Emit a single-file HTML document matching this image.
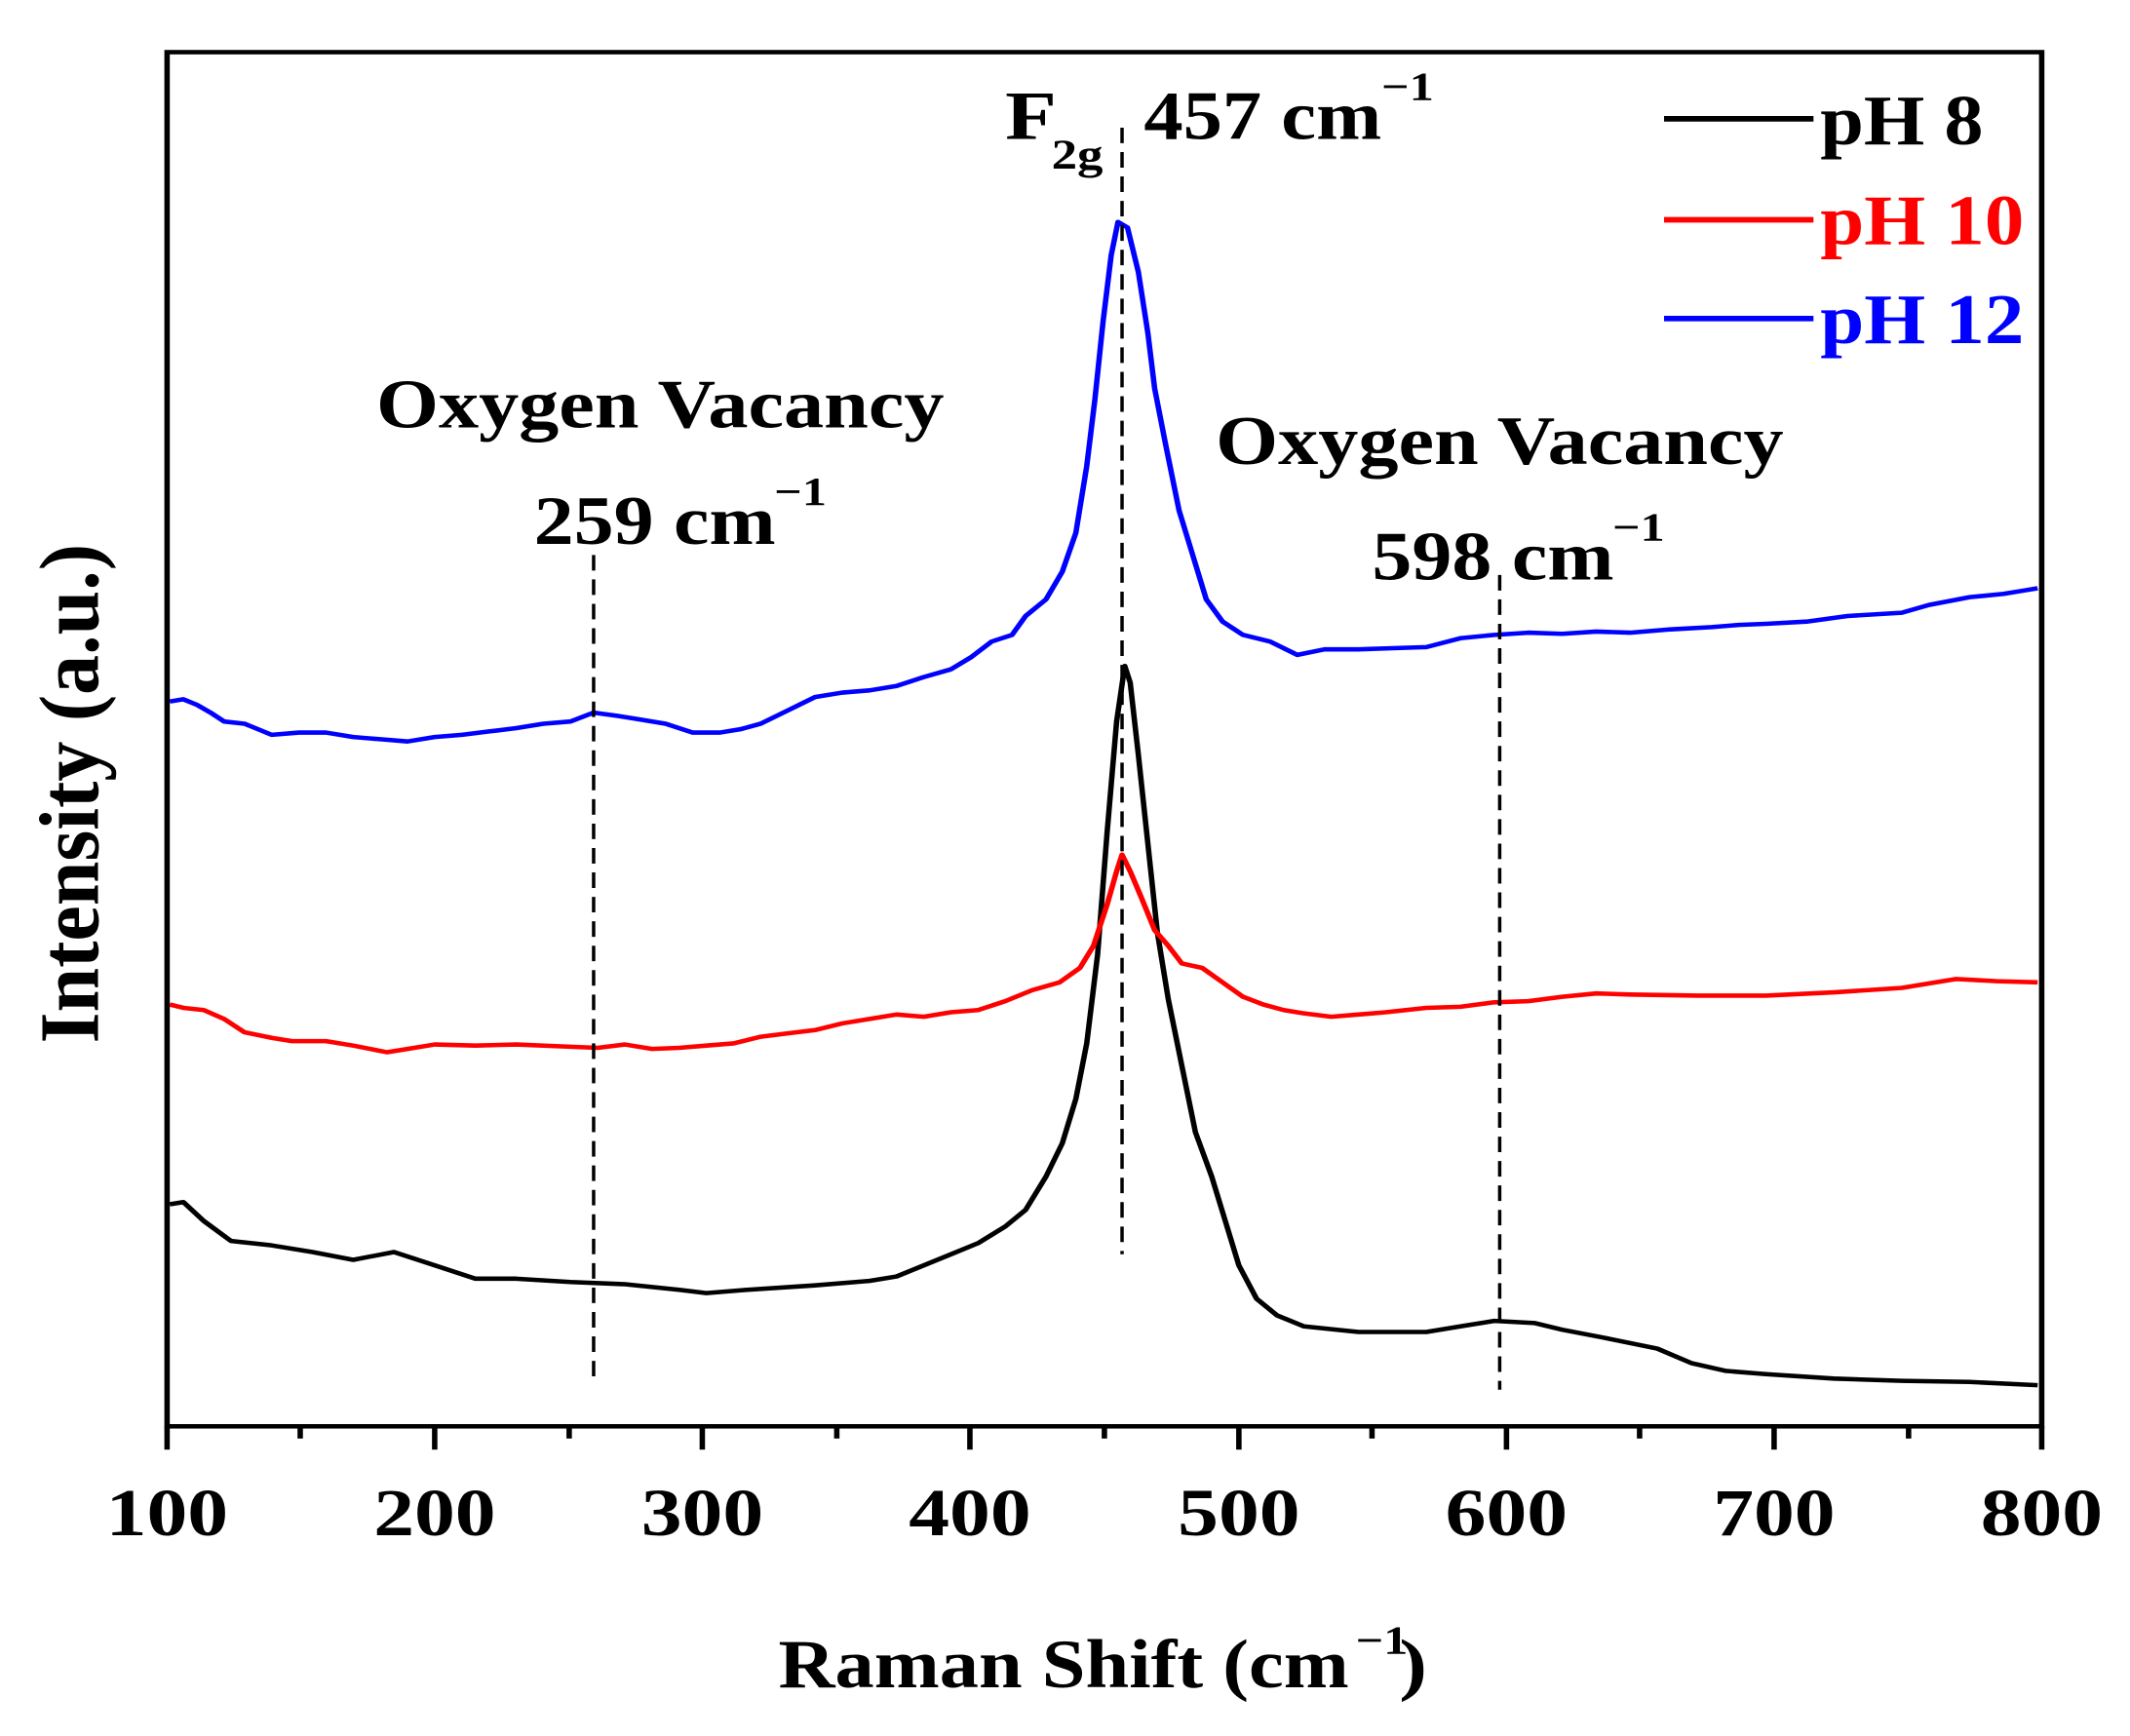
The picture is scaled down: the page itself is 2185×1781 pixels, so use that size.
<!DOCTYPE html>
<html><head><meta charset="utf-8"><style>html,body{margin:0;padding:0;background:#fff;overflow:hidden}svg{display:block}</style></head>
<body>
<svg width="2185" height="1781" viewBox="0 0 1568 1564" preserveAspectRatio="none" xmlns="http://www.w3.org/2000/svg" font-family="Liberation Serif, serif" font-weight="bold">
<rect width="1568" height="1564" fill="#fff"/>
<g fill="none" stroke-width="4" stroke-linejoin="round">
<polyline stroke="#000" points="125,1085 135,1083 150,1100 170,1118 200,1122 230,1128 260,1135 290,1128 320,1140 350,1152 380,1152 420,1155 460,1157 500,1162 520,1165 550,1162 600,1158 640,1154 660,1150 680,1140 700,1130 720,1120 740,1105 755,1090 770,1060 782,1030 792,990 800,940 808,860 815,750 822,650 828,600 832,615 838,680 845,760 852,840 860,900 870,960 880,1020 892,1060 902,1100 912,1140 925,1170 940,1185 960,1195 1000,1200 1050,1200 1080,1194 1100,1190 1130,1192 1150,1198 1180,1205 1220,1215 1245,1228 1270,1235 1300,1238 1350,1242 1400,1244 1450,1245 1500,1248"/>
<polyline stroke="#f00" points="125,905 135,908 150,910 165,918 180,930 200,935 215,938 240,938 260,942 285,948 300,945 320,941 350,942 380,941 420,943 440,944 460,941 480,945 500,944 520,942 540,940 560,934 580,931 600,928 620,922 640,918 660,914 680,916 700,912 720,910 740,902 760,892 780,885 795,872 805,852 815,815 822,785 826,770 832,785 840,808 850,838 860,852 870,868 885,872 900,885 915,898 930,905 945,910 960,913 980,916 1000,914 1020,912 1050,908 1075,907 1100,903 1125,902 1150,898 1175,895 1200,896 1250,897 1300,897 1350,894 1400,890 1440,882 1470,884 1500,885"/>
<polyline stroke="#00f" points="125,632 135,630 145,635 155,642 165,650 180,652 200,662 220,660 240,660 260,664 280,666 300,668 320,664 340,662 360,659 380,656 400,652 420,650 437,642 455,645 470,648 490,652 510,660 530,660 545,657 560,652 580,640 600,628 620,624 640,622 660,618 680,610 700,603 715,592 730,578 745,572 755,555 770,540 782,515 792,480 800,420 806,360 812,290 818,230 823,200 830,205 838,245 845,300 850,350 858,400 868,460 878,500 888,540 900,560 915,572 935,578 955,590 975,585 1000,585 1025,584 1050,583 1075,575 1100,572 1125,570 1150,571 1175,569 1200,570 1230,567 1260,565 1280,563 1300,562 1330,560 1360,555 1400,552 1420,545 1450,538 1475,535 1490,532 1500,530"/>
</g>
<g stroke="#000" stroke-width="2.5" stroke-dasharray="14,8">
<line x1="437" y1="500" x2="437" y2="1240"/>
<line x1="826" y1="115" x2="826" y2="1130"/>
<line x1="1104" y1="518" x2="1104" y2="1252"/>
</g>
<rect x="123" y="47" width="1380" height="1238" fill="none" stroke="#000" stroke-width="4"/>
<g stroke="#000" stroke-width="4">
<line x1="123" y1="1285" x2="123" y2="1306"/><line x1="320" y1="1285" x2="320" y2="1306"/><line x1="517" y1="1285" x2="517" y2="1306"/><line x1="714" y1="1285" x2="714" y2="1306"/><line x1="912" y1="1285" x2="912" y2="1306"/><line x1="1109" y1="1285" x2="1109" y2="1306"/><line x1="1306" y1="1285" x2="1306" y2="1306"/><line x1="1503" y1="1285" x2="1503" y2="1306"/>
<line x1="221" y1="1285" x2="221" y2="1296"/><line x1="419" y1="1285" x2="419" y2="1296"/><line x1="616" y1="1285" x2="616" y2="1296"/><line x1="813" y1="1285" x2="813" y2="1296"/><line x1="1010" y1="1285" x2="1010" y2="1296"/><line x1="1207" y1="1285" x2="1207" y2="1296"/><line x1="1405" y1="1285" x2="1405" y2="1296"/>
</g>
<g font-size="60" text-anchor="middle">
<text x="123" y="1383">100</text><text x="320" y="1383">200</text><text x="517" y="1383">300</text><text x="714" y="1383">400</text><text x="912" y="1383">500</text><text x="1109" y="1383">600</text><text x="1306" y="1383">700</text><text x="1503" y="1383">800</text>
</g>
<text x="573" y="1520" font-size="62" textLength="420" lengthAdjust="spacingAndGlyphs">Raman Shift (cm</text>
<text x="998" y="1490" font-size="36">−1</text>
<text x="1030" y="1520" font-size="62">)</text>
<text transform="translate(72,715) rotate(-90)" text-anchor="middle" font-size="62" textLength="450" lengthAdjust="spacingAndGlyphs">Intensity (a.u.)</text>
<text x="277" y="385" font-size="62" textLength="418" lengthAdjust="spacingAndGlyphs">Oxygen Vacancy</text>
<text x="393" y="490" font-size="62" textLength="178" lengthAdjust="spacingAndGlyphs">259 cm</text>
<text x="570" y="455" font-size="36">−1</text>
<text x="895" y="418" font-size="62" textLength="418" lengthAdjust="spacingAndGlyphs">Oxygen Vacancy</text>
<text x="1010" y="522" font-size="62" textLength="178" lengthAdjust="spacingAndGlyphs">598 cm</text>
<text x="1187" y="487" font-size="36">−1</text>
<text x="740" y="125" font-size="62">F</text>
<text x="774" y="152" font-size="38">2g</text>
<text x="842" y="125" font-size="62" textLength="175" lengthAdjust="spacingAndGlyphs">457 cm</text>
<text x="1017" y="90" font-size="36">−1</text>
<g stroke-width="5">
<line x1="1225" y1="107" x2="1335" y2="107" stroke="#000"/>
<line x1="1225" y1="198" x2="1335" y2="198" stroke="#f00"/>
<line x1="1225" y1="287" x2="1335" y2="287" stroke="#00f"/>
</g>
<g font-size="64">
<text x="1340" y="130" fill="#000" textLength="120" lengthAdjust="spacingAndGlyphs">pH 8</text>
<text x="1340" y="220" fill="#f00" textLength="150" lengthAdjust="spacingAndGlyphs">pH 10</text>
<text x="1340" y="309" fill="#00f" textLength="150" lengthAdjust="spacingAndGlyphs">pH 12</text>
</g>
</svg>
</body></html>
